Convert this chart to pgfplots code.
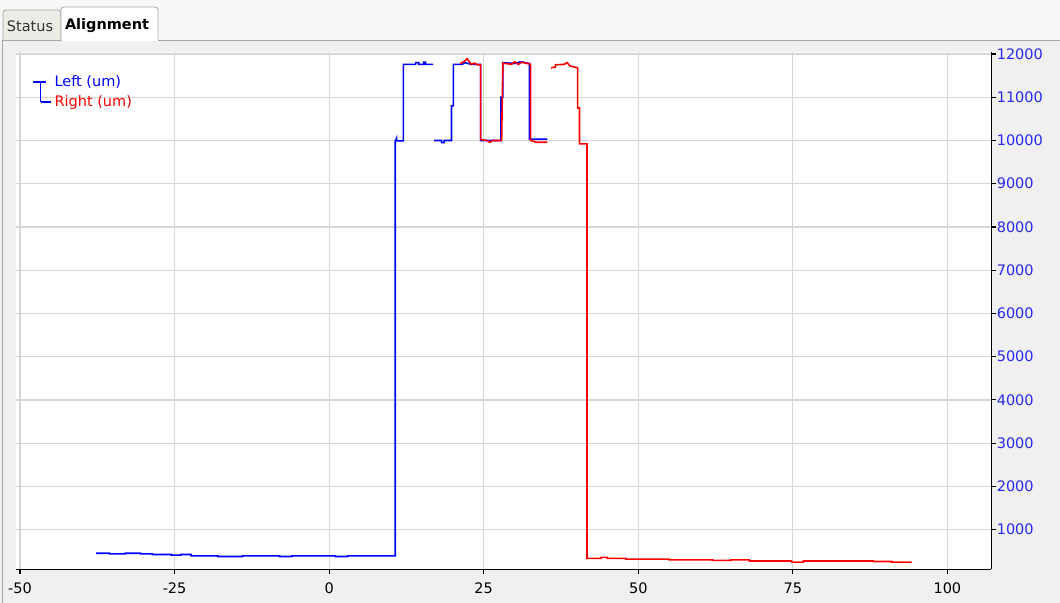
\documentclass[border=0pt]{standalone}
\usepackage{fontspec}
\setmainfont{DejaVu Sans}
\usepackage{pgfplots}
\pgfplotsset{compat=1.18}
\definecolor{panelbg}{HTML}{F0F0F0}
\definecolor{topbg}{HTML}{F8F8F8}
\definecolor{tabgray}{HTML}{ECEBE5}
\definecolor{tabline}{HTML}{A8A8A8}
\definecolor{gridgray}{HTML}{D6D6D6}
\definecolor{lblue}{HTML}{0000FF}
\definecolor{lred}{HTML}{FF0000}
\definecolor{tickblue}{HTML}{2828F0}

\begin{document}
\begin{tikzpicture}
% window chrome, in screen pixels (origin top left)
\begin{scope}[shift={(0cm,15.075cm)}, x=0.025cm, y=-0.025cm]
  \fill[topbg] (0,0) rectangle (1060,603);
  \useasboundingbox (0,0) rectangle (1060,603);
  \fill[panelbg] (0,40) rectangle (1060,603);
  \draw[tabline, line width=0.6pt] (2,603) -- (2,40) -- (1060,40);
  \draw[tabline, line width=0.6pt, fill=tabgray, rounded corners=2pt]
    (3,40) -- (3,10) -- (61,10) -- (61,40);
  \draw[tabline, line width=0.6pt, fill=white, rounded corners=2pt]
    (61,40.5) -- (61,7) -- (158,7) -- (158,40.5);
  \fill[white] (61.5,39) rectangle (157.5,41.5);
  \node[font=\fontsize{10.3}{12}\selectfont, text=black!80] at (30,26) {Status};
  \node[font=\fontsize{10.3}{12}\selectfont\bfseries] at (107,26) {Alignment};
\end{scope}

\begin{axis}[
  at={(0.4cm,0.85cm)}, anchor=south west,
  scale only axis, width=24.375cm, height=12.925cm,
  xmin=-50.65, xmax=107.1, ymin=87, ymax=12046,
  axis x line*=bottom, axis y line*=right,
  tick align=outside, major tick length=0.12cm,
  xtick={-50,-25,...,100}, ytick={1000,2000,...,12000},
  scaled y ticks=false,
  grid=major, major grid style={gridgray, line width=0.9pt},
  axis line style={black, line width=0.8pt},
  tick style={black, line width=0.8pt},
  axis background/.style={fill=white},
  ticklabel style={font=\fontsize{10.3}{12}\selectfont},
  xticklabel style={yshift=-3pt},
  yticklabel style={text=tickblue, anchor=west, xshift=-3pt},
  /pgf/number format/assume math mode=true,
  /pgf/number format/set thousands separator={},
  unbounded coords=jump,
  every axis plot/.append style={line width=1.15pt, no marks},
  legend cell align=left,
  legend style={at={(0.0165,0.961)}, anchor=north west, draw=none, fill=none,
    font=\fontsize{10.3}{12}\selectfont, row sep=1pt, inner sep=0pt},
]
\addplot[lblue, legend image code/.code={
    \draw[lblue, line width=1pt] (0cm,0cm) -- (0.33cm,0cm);
    \draw[lblue, line width=1pt, overlay] (0.19cm,0cm) -- (0.19cm,-0.28cm);}]
coordinates {
(-37.7,455)(-35.5,455)(-35.5,440)(-33,440)(-33,455)(-30.5,455)(-30.5,440)
(-28.6,440)(-28.6,425)(-25.5,425)(-25.5,410)(-24,410)(-24,425)(-22.3,425)
(-22.3,395)(-18,395)(-18,380)(-14,380)(-14,395)(-8,395)(-8,380)(-6,380)
(-6,395)(1,395)(1,380)(3,380)(3,395)(10.7,395)
(10.7,9990)(10.9,10050)(10.9,9990)(12.0,9990)(12.0,11760)(14,11760)(14,11800)
(14.5,11800)(14.5,11760)(15.3,11760)(15.3,11810)(15.6,11810)(15.6,11760)(16.8,11760)
(16.9,nan)
(17.0,10000)(18.2,10000)(18.2,9950)(18.6,9950)(18.6,10000)(19.8,10000)
(19.8,10800)(20.1,10800)(20.1,11760)(21.5,11760)(22,11800)(23,11760)(24.5,11760)
(24.5,10000)(27.8,10000)(27.8,11000)(28.1,11000)(28.1,11800)(30,11780)(31,11820)
(32.4,11780)(32.4,10030)(35.3,10030)
};
\addlegendentry{\textcolor{lblue}{Left (um)}}
\addplot[lred, legend image code/.code={
    \draw[lblue, line width=1pt, overlay] (0.19cm,0.28cm) -- (0.19cm,0cm);
    \draw[lblue, line width=1pt] (0.19cm,0cm) -- (0.45cm,0cm);}]
coordinates {
(21.2,11780)(21.8,11820)(22.3,11890)(22.7,11820)(23,11760)(23.5,11790)(24,11750)
(24.5,11750)(24.5,10020)(25.5,10000)(26,9960)(26.5,10000)(27.9,10000)
(28.1,11790)(29.5,11760)(30,11820)(30.6,11760)(31.2,11810)(32.6,11760)
(32.6,10000)(33.5,9960)(35.3,9960)
(35.6,nan)
(35.9,11680)(36.6,11700)(36.6,11750)(38,11760)(38.5,11800)(39,11720)(40.2,11680)
(40.2,10750)(40.5,10750)(40.5,9920)(41.7,9920)(41.7,335)(44,335)(44,360)(45,360)
(45,335)(48,335)(48,320)(55,320)(55,300)(62,300)(62,290)(65,290)(65,300)(68,300)
(68,275)(74.8,275)(74.8,250)(76.7,250)(76.7,275)(88,275)(88,265)(91,265)(91,250)
(94.2,250)
};
\addlegendentry{\textcolor{lred}{Right (um)}}
\end{axis}
\end{tikzpicture}
\end{document}
